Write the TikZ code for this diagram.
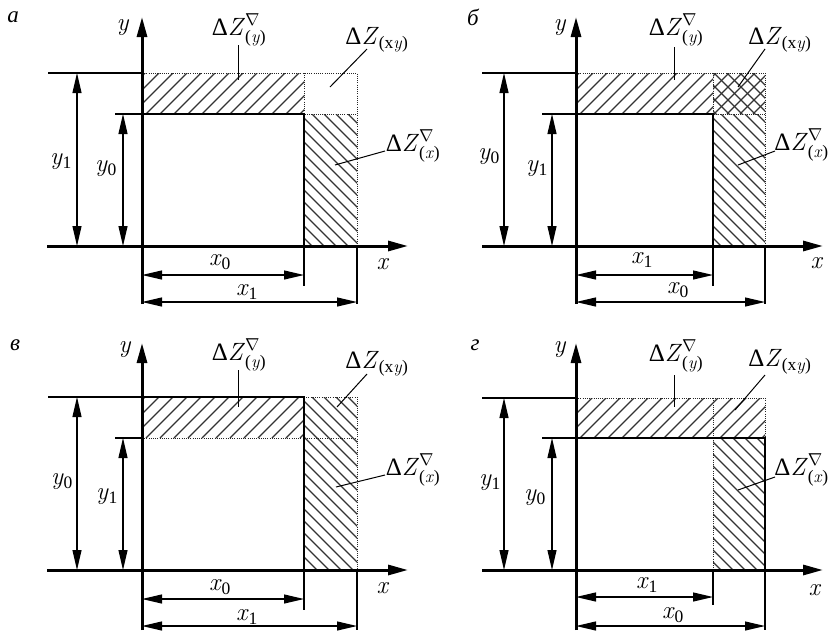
\documentclass[tikz,border=0pt]{standalone}
\usepackage{amsmath}
\usepackage{fontspec}
\setmainfont{Liberation Serif}
\newfontfamily\lmr{Latin Modern Roman}
\usetikzlibrary{arrows.meta}
\tikzset{
  hatchline/.style={line width=1.1pt, black!80},
  dotline/.style={line width=0.9pt, black!85, dash pattern=on 1pt off 1.2pt},
  boldline/.style={line width=2.7pt, line cap=rect},
  thinl/.style={line width=1.1pt},
  axisarrow/.style={line width=3pt, -{Triangle[length=20pt,width=10pt]}},
  dimarrow/.style={line width=1.1pt, {Triangle[length=20pt,width=9pt]}-{Triangle[length=20pt,width=9pt]}},
  leader/.style={line width=1pt},
  lbl/.style={font=\fontsize{25}{28}\selectfont, inner sep=0pt},
  plbl/.style={font=\fontsize{23}{26}\selectfont\itshape, inner sep=0pt},
}
\newcommand{\hatchNE}[5]{\begin{scope}\clip (#1,#2) rectangle (#3,#4);
  \foreach \k in {0,...,45}{\draw[hatchline] ({#1-220+\k*#5},#4) -- ++(240,-240);}\end{scope}}
\newcommand{\hatchNW}[5]{\begin{scope}\clip (#1,#2) rectangle (#3,#4);
  \foreach \k in {0,...,45}{\draw[hatchline] ({#1-220+\k*#5},#2) -- ++(240,240);}\end{scope}}
\newcommand{\iv}[1]{{\lmr\itshape #1\/}}
\newcommand{\DZy}{Δ\iv{Z}$^{\nabla}_{\text{(\iv{y})}}$}
\newcommand{\DZx}{Δ\iv{Z}$^{\nabla}_{\text{(\iv{x})}}$}
\newcommand{\DZxy}{Δ\iv{Z}$_{\text{(x\iv{y})}}$}
\newcommand{\vv}[2]{\iv{#1}$_{\text{#2}}$}
\begin{document}
\begin{tikzpicture}[x=1pt,y=-1pt]
\useasboundingbox (0,0) rectangle (830,630);
% ================= panel a =================
\begin{scope}
  \hatchNE{142}{73}{304}{114}{14}
  \hatchNW{304}{114}{357}{246}{12}
  \draw[dotline] (142,73) -- (357,73) -- (357,246);
  \draw[dotline] (304,73) -- (304,114) -- (357,114);
  \draw[boldline] (142,114) -- (304,114) -- (304,246);
  \draw[thinl] (48,73) -- (142,73);
  \draw[thinl] (115,114) -- (142,114);
  \draw[thinl] (304,246) -- (304,286);
  \draw[thinl] (357,246) -- (357,304);
  \draw[axisarrow] (47,246) -- (408,246);
  \draw[axisarrow] (142,304) -- (142,17);
  \draw[dimarrow] (77,73) -- (77,246);
  \draw[dimarrow] (123,114) -- (123,246);
  \draw[dimarrow] (142,275) -- (304,275);
  \draw[dimarrow] (142,302) -- (357,302);
  \node[plbl] (pa) at (13,17) {а};
  \node[lbl] (ya) at (123,28) {\iv{y}};
  \node[lbl] (xa) at (383,264) {\iv{x}};
  \node[lbl] (y1a) at (61,162) {\vv{y}{1}};
  \node[lbl] (y0a) at (106,169) {\vv{y}{0}};
  \node[lbl] (x0a) at (220,262) {\vv{x}{0}};
  \node[lbl] (x1a) at (247,292) {\vv{x}{1}};
  \node[lbl] (dya) at (239,30) {\DZy};
  \node[lbl] (dxya) at (377,40) {\DZxy};
  \node[lbl] (dxa) at (413,146) {\DZx};
  \coordinate (la1) at (238,45); \coordinate (la2) at (238,80);
  \coordinate (la3) at (367,49); \coordinate (la4) at (330,87);
  \coordinate (la5) at (385,151); \coordinate (la6) at (335,165);
  \draw[leader] (la1) -- (la2);
  \draw[leader] (la3) -- (la4);
  \draw[leader] (la5) -- (la6);
\end{scope}
% ================= panel b =================
\begin{scope}
  \hatchNE{576}{73}{713}{114}{14}
  \hatchNE{713}{73}{765}{114}{13}
  \hatchNW{713}{73}{765}{114}{13}
  \hatchNW{713}{114}{765}{246}{12}
  \draw[dotline] (576,73) -- (765,73) -- (765,246);
  \draw[dotline] (713,73) -- (713,114) -- (765,114);
  \draw[boldline] (576,114) -- (713,114) -- (713,246);
  \draw[thinl] (482,73) -- (576,73);
  \draw[thinl] (542,114) -- (576,114);
  \draw[thinl] (713,246) -- (713,286);
  \draw[thinl] (765,246) -- (765,304);
  \draw[axisarrow] (482,246) -- (823,246);
  \draw[axisarrow] (576,304) -- (576,17);
  \draw[dimarrow] (504,73) -- (504,246);
  \draw[dimarrow] (552,114) -- (552,246);
  \draw[dimarrow] (576,275) -- (713,275);
  \draw[dimarrow] (576,302) -- (765,302);
  \node[plbl] (pb) at (473,17) {б};
  \node[lbl] (yb) at (560,28) {\iv{y}};
  \node[lbl] (xb) at (817,263) {\iv{x}};
  \node[lbl] (y0b) at (489,157) {\vv{y}{0}};
  \node[lbl] (y1b) at (537,169) {\vv{y}{1}};
  \node[lbl] (x1b) at (642,260) {\vv{x}{1}};
  \node[lbl] (x0b) at (678,290) {\vv{x}{0}};
  \node[lbl] (dyb) at (676,30) {\DZy};
  \node[lbl] (dxyb) at (780,40) {\DZxy};
  \node[lbl, anchor=east] (dxb) at (829,145) {\DZx};
  \coordinate (lb1) at (674,47); \coordinate (lb2) at (674,80);
  \coordinate (lb3) at (765,49); \coordinate (lb4) at (738,87);
  \coordinate (lb5) at (775,151); \coordinate (lb6) at (738,165);
  \draw[leader] (lb1) -- (lb2);
  \draw[leader] (lb3) -- (lb4);
  \draw[leader] (lb5) -- (lb6);
\end{scope}
% ================= panel v =================
\begin{scope}[shift={(0,324)}]
  \hatchNE{142}{73}{304}{114}{14}
  \hatchNW{304}{73}{357}{246}{12}
  \draw[dotline] (142,114) -- (357,114);
  \draw[dotline] (304,73) -- (357,73) -- (357,246);
  \draw[boldline] (142,73) -- (304,73) -- (304,246);
  \draw[thinl] (48,73) -- (142,73);
  \draw[thinl] (115,114) -- (142,114);
  \draw[thinl] (304,246) -- (304,286);
  \draw[thinl] (357,246) -- (357,306);
  \draw[axisarrow] (47,246) -- (408,246);
  \draw[axisarrow] (142,306) -- (142,19);
  \draw[dimarrow] (77,73) -- (77,246);
  \draw[dimarrow] (123,114) -- (123,246);
  \draw[dimarrow] (142,275) -- (304,275);
  \draw[dimarrow] (142,302) -- (357,302);
  \node[plbl] (pc) at (15,21) {в};
  \node[lbl] (yc) at (125,26) {\iv{y}};
  \node[lbl] (xc) at (383,264) {\iv{x}};
  \node[lbl] (y0c) at (62,158) {\vv{y}{0}};
  \node[lbl] (y1c) at (107,173) {\vv{y}{1}};
  \node[lbl] (x0c) at (220,263) {\vv{x}{0}};
  \node[lbl] (x1c) at (247,293) {\vv{x}{1}};
  \node[lbl] (dyc) at (239,31) {\DZy};
  \node[lbl] (dxyc) at (377,40) {\DZxy};
  \node[lbl] (dxc) at (413,146) {\DZx};
  \coordinate (lc1) at (238,46); \coordinate (lc2) at (238,83);
  \coordinate (lc3) at (367,50); \coordinate (lc4) at (337,83);
  \coordinate (lc5) at (385,151); \coordinate (lc6) at (336,163);
  \draw[leader] (lc1) -- (lc2);
  \draw[leader] (lc3) -- (lc4);
  \draw[leader] (lc5) -- (lc6);
\end{scope}
% ================= panel g =================
\begin{scope}[shift={(0,324)}]
  \hatchNE{576}{74}{765}{114}{14}
  \hatchNW{713}{114}{765}{246}{12}
  \draw[dotline] (576,74) -- (765,74) -- (765,114);
  \draw[dotline] (713,74) -- (713,246);
  \draw[boldline] (576,114) -- (765,114) -- (765,246);
  \draw[thinl] (482,74) -- (576,74);
  \draw[thinl] (542,114) -- (576,114);
  \draw[thinl] (713,246) -- (713,281);
  \draw[thinl] (765,246) -- (765,306);
  \draw[axisarrow] (482,246) -- (823,246);
  \draw[axisarrow] (576,306) -- (576,19);
  \draw[dimarrow] (504,74) -- (504,246);
  \draw[dimarrow] (552,114) -- (552,246);
  \draw[dimarrow] (576,273) -- (713,273);
  \draw[dimarrow] (576,302) -- (765,302);
  \node[plbl] (pd) at (475,21) {г};
  \node[lbl] (yd) at (560,26) {\iv{y}};
  \node[lbl] (xd) at (815,266) {\iv{x}};
  \node[lbl] (y1d) at (490,159) {\vv{y}{1}};
  \node[lbl] (y0d) at (535,174) {\vv{y}{0}};
  \node[lbl] (x1d) at (647,261) {\vv{x}{1}};
  \node[lbl] (x0d) at (673,291) {\vv{x}{0}};
  \node[lbl] (dyd) at (676,32) {\DZy};
  \node[lbl] (dxyd) at (780,38) {\DZxy};
  \node[lbl, anchor=east] (dxd) at (829,146) {\DZx};
  \coordinate (ld1) at (674,51); \coordinate (ld2) at (674,83);
  \coordinate (ld3) at (765,51); \coordinate (ld4) at (735,86);
  \coordinate (ld5) at (775,153); \coordinate (ld6) at (738,166);
  \draw[leader] (ld1) -- (ld2);
  \draw[leader] (ld3) -- (ld4);
  \draw[leader] (ld5) -- (ld6);
\end{scope}
\end{tikzpicture}
\end{document}
